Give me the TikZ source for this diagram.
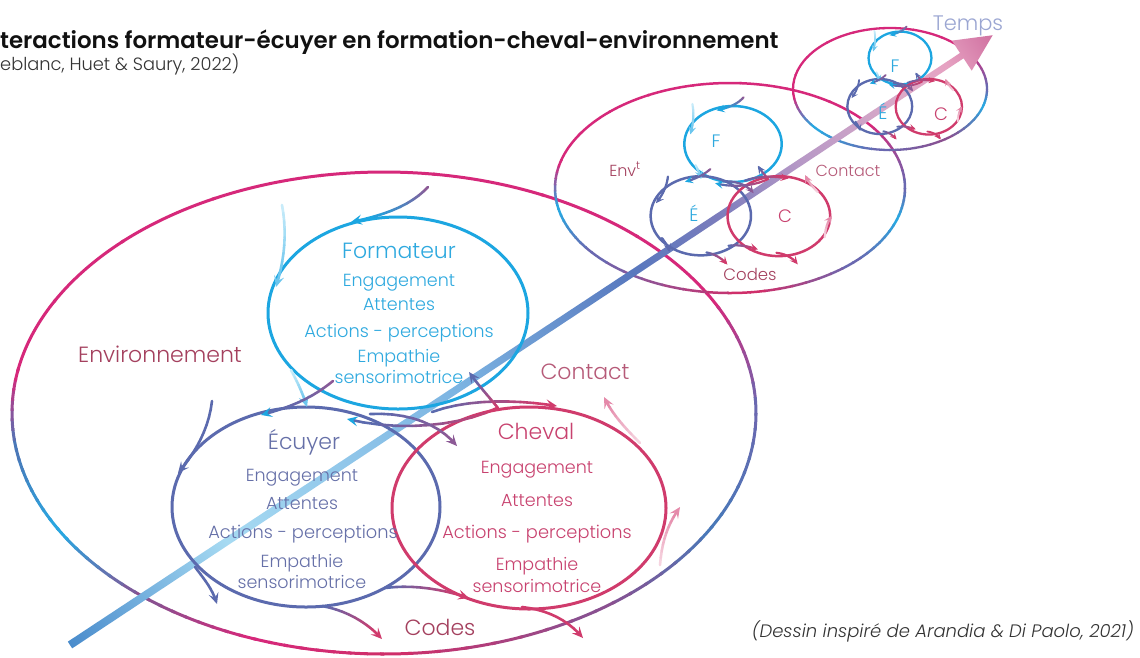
\documentclass[tikz,border=0pt]{standalone}
\usepackage{fontspec}
\setmainfont{Poppins}[UprightFont={* Light},BoldFont={* SemiBold},ItalicFont={* Light Italic},BoldItalicFont={* SemiBold Italic}]
\usetikzlibrary{arrows.meta}
\definecolor{cF}{HTML}{1CA6E1}
\definecolor{cE}{HTML}{5B6AAE}
\definecolor{cC}{HTML}{D03B6C}
\definecolor{cPur}{HTML}{8C5A96}
\definecolor{cLF}{HTML}{6CC6EE}
\definecolor{cLFa}{HTML}{C8ECFA}
\definecolor{cLC}{HTML}{E58AAA}
\definecolor{cLCa}{HTML}{F6D4E0}
\definecolor{eM}{HTML}{D6287A}
\definecolor{eB}{HTML}{4A78B8}
\definecolor{eC}{HTML}{2AA6E0}
\definecolor{eP}{HTML}{CF2F6A}
\definecolor{ePu}{HTML}{8A5090}
\definecolor{eV}{HTML}{6A68B0}
\definecolor{tF}{HTML}{2EA9DF}
\definecolor{tE}{HTML}{6670A8}
\definecolor{tC}{HTML}{C8426F}
\definecolor{tEnv}{HTML}{A4405E}
\definecolor{tCont}{HTML}{B65A78}
\definecolor{tTemps}{HTML}{9BA6D2}
\definecolor{tBlack}{HTML}{111111}
\definecolor{tGray}{HTML}{333333}
\definecolor{t0}{HTML}{4A8CCC}
\definecolor{t1}{HTML}{A6DAF2}
\definecolor{t2}{HTML}{7CB4E2}
\definecolor{t3}{HTML}{5878BE}
\definecolor{t4}{HTML}{7A7CBC}
\definecolor{t5}{HTML}{B698C6}
\definecolor{t6}{HTML}{DCAAC8}
\definecolor{t7}{HTML}{E6A2C2}
\definecolor{t8}{HTML}{D070A0}
\pgfdeclarehorizontalshading{timeshade}{100bp}{color(0bp)=(t0); color(25bp)=(t0); color(33.5bp)=(t1); color(46bp)=(t2); color(55.5bp)=(t3); color(60bp)=(t4); color(64.5bp)=(t5); color(70bp)=(t6); color(72.5bp)=(t7); color(75bp)=(t8); color(100bp)=(t8)}
\newcommand\tipL{11pt}\newcommand\tipW{10pt}\newcommand\tipI{4.5pt}
\newcommand\lwA{2.6pt}\newcommand\lwE{3pt}\newcommand\rf{1}
% gradient curve with arrow tip
\newcommand\gcurve[7]{%
 \path #1 .. controls #2 and #3 .. #4
   coordinate[pos=0] (g0) coordinate[pos=0.1] (g1) coordinate[pos=0.2] (g2)
   coordinate[pos=0.3] (g3) coordinate[pos=0.4] (g4) coordinate[pos=0.5] (g5)
   coordinate[pos=0.6] (g6) coordinate[pos=0.7] (g7) coordinate[pos=0.8] (g8)
   coordinate[pos=0.9] (g9) coordinate[pos=1] (g10);
 \foreach \k [evaluate=\k as \kk using int(\k+1), evaluate=\k as \p using \k*100/8] in {0,...,8}{%
   \draw[line width=\lwA, line cap=round, color=#6!\p!#5] (g\k) -- (g\kk);}
 \draw[line width=\lwA, color=#6, -{Stealth[length=\tipL,width=\tipW,inset=\tipI,color=#7]}] (g9) -- (g10);
}
% gradient ellipse
\newcommand\gradell[6]{%
 \foreach \s/\e/\ca/\cb in {#6}{%
  \foreach \k in {0,...,7}{%
   \pgfmathsetmacro\aa{\s+(\e-\s)*\k/8}%
   \pgfmathsetmacro\bb{\s+(\e-\s)*(\k+1)/8+0.6}%
   \pgfmathsetmacro\p{\k*100/7}%
   \draw[line width=#5, color=\cb!\p!\ca] (#1,#2) ++(\aa:#3 and #4) arc[start angle=\aa, end angle=\bb, x radius=#3, y radius=#4];
 }}}
\newcommand\trio{%
 \draw[cF, line width=\lwE] (398,313) ellipse [x radius=130*\rf, y radius=96*\rf];
 \draw[cE, line width=\lwE] (306,507) ellipse [x radius=134*\rf, y radius=100*\rf];
 \draw[cC, line width=\lwE] (529,508) ellipse [x radius=137*\rf, y radius=101*\rf];
 \gcurve{(428,187)}{(414,202)}{(392,214)}{(351,222)}{cPur}{cF}{cF}
 \gcurve{(282,205)}{(287,232)}{(285,258)}{(276,287)}{cLFa}{cLF}{cLF}
 \gcurve{(291,370)}{(298,383)}{(303,394)}{(307,407)}{cLFa}{cLF}{cLF}
 \gcurve{(333,381)}{(318,393)}{(300,405)}{(261,415)}{cPur}{cE}{cF}
 \gcurve{(497,408)}{(460,426)}{(400,432)}{(347,419)}{cC}{cE}{cF}
 \gcurve{(432,412)}{(470,398)}{(520,400)}{(557,406)}{cE}{cC}{cC}
 \gcurve{(498,408)}{(490,398)}{(478,385)}{(469,372)}{cC}{cE}{cE}
 \gcurve{(370,414)}{(410,412)}{(440,425)}{(457,446)}{cE}{cPur}{cPur}
 \gcurve{(212,401)}{(209,428)}{(196,452)}{(178,473)}{cE}{cE}{cE}
 \gcurve{(195,567)}{(205,580)}{(213,590)}{(217,604)}{cE}{cE}{cE}
 \gcurve{(322,606)}{(345,610)}{(367,622)}{(382,639)}{cE}{cC}{cC}
 \gcurve{(385,588)}{(415,584)}{(445,590)}{(469,598)}{cE}{cC}{cC}
 \gcurve{(522,607)}{(548,610)}{(568,620)}{(583,638)}{cC}{cC}{cC}
 \gcurve{(660,565)}{(662,540)}{(668,524)}{(680,507)}{cLCa}{cLC}{cLC}
 \gcurve{(640,443)}{(625,428)}{(612,414)}{(604,397)}{cLCa}{cLC}{cLC}
}
\begin{document}
\begin{tikzpicture}[x=1pt,y=-1pt, lab/.style={anchor=base, inner sep=0pt}]
\useasboundingbox (0,0) rectangle (1140,657);
\fill[white] (0,0) rectangle (1140,657);
% environment ellipses
\gradell{384}{413}{372}{241}{3pt}{0/28/eV/eB, 28/55/eB/ePu, 55/90/ePu/eP, 90/110/eP/eM, 110/129/eM/ePu, 129/151/ePu/eC, 151/171/eC/eB, 171/190/eB/eM, 190/330/eM/eM, 330/360/eM/eV}
\gradell{730}{188}{175}{105}{2.5pt}{0/17/eV/eC, 17/45/eC/eV, 45/83/eV/eP, 83/142/eP/eV, 142/168/eV/eC, 168/195/eC/eM, 195/320/eM/eM, 320/360/eM/eV}
\gradell{890}{89}{97}{61}{2.3pt}{0/15/eV/eC, 15/55/eC/ePu, 55/95/ePu/eV, 95/140/eV/eC, 140/175/eC/eM, 175/320/eM/eM, 320/360/eM/eV}
% time arrow
\begin{scope}[transform canvas={shift={(70,645)}, rotate=33.46}]
\shade[shading=timeshade] (0,-4) -- (1069,-3.2) -- (1069,-18) -- (1106,0) -- (1069,18) -- (1069,3.2) -- (0,4) -- cycle;
\end{scope}
% trios
\trio
\begin{scope}[shift={(733,144)}, xscale=0.35, yscale=0.37, shift={(-398,-313)}]
\def\rf{1.07}\def\lwA{2.2pt}\def\lwE{2.5pt}\def\tipL{8pt}\def\tipW{7.5pt}\def\tipI{3.2pt}
\trio
\end{scope}
\begin{scope}[shift={(900,58)}, xscale=0.22, yscale=0.25, shift={(-398,-313)}]
\def\rf{1.1}\def\lwA{1.8pt}\def\lwE{2.3pt}\def\tipL{6.5pt}\def\tipW{6pt}\def\tipI{2.7pt}
\trio
\end{scope}
% main texts
\begin{scope}[tF]
\node[lab, font=\fontsize{22}{22}\selectfont] (fT) at (399,258) {Formateur};
\node[lab, font=\fontsize{17.5}{17}\selectfont] (f1) at (399,286) {Engagement};
\node[lab, font=\fontsize{17.5}{17}\selectfont] (f2) at (399,310) {Attentes};
\node[lab, font=\fontsize{17.8}{17}\selectfont] (f3) at (399,337) {Actions - perceptions};
\node[lab, font=\fontsize{17.5}{17}\selectfont] (f4) at (399,362) {Empathie};
\node[lab, font=\fontsize{17.5}{17}\selectfont] (f5) at (399,383) {sensorimotrice};
\end{scope}
\begin{scope}[tE]
\node[lab, font=\fontsize{22}{22}\selectfont] (eT) at (304,449) {Écuyer};
\node[lab, font=\fontsize{17.5}{17}\selectfont] (e1) at (302,481) {Engagement};
\node[lab, font=\fontsize{17.5}{17}\selectfont] (e2) at (302,509) {Attentes};
\node[lab, font=\fontsize{17.8}{17}\selectfont] (e3) at (303,538) {Actions - perceptions};
\node[lab, font=\fontsize{17.5}{17}\selectfont] (e4) at (302,567) {Empathie};
\node[lab, font=\fontsize{17.5}{17}\selectfont] (e5) at (302,588) {sensorimotrice};
\end{scope}
\begin{scope}[tC]
\node[lab, font=\fontsize{22}{22}\selectfont] (cT) at (536,439) {Cheval};
\node[lab, font=\fontsize{17.5}{17}\selectfont] (c1) at (537,473) {Engagement};
\node[lab, font=\fontsize{17.5}{17}\selectfont] (c2) at (537,506) {Attentes};
\node[lab, font=\fontsize{17.8}{17}\selectfont] (c3) at (537,538) {Actions - perceptions};
\node[lab, font=\fontsize{17.5}{17}\selectfont] (c4) at (537,570) {Empathie};
\node[lab, font=\fontsize{17.5}{17}\selectfont] (c5) at (537,592) {sensorimotrice};
\end{scope}
\node[lab, tEnv, font=\fontsize{22}{22}\selectfont] (env) at (160,362) {Environnement};
\node[lab, tCont, font=\fontsize{22}{22}\selectfont] (cont) at (585,379) {Contact};
\node[lab, tEnv, font=\fontsize{22}{22}\selectfont] (codes) at (440,635) {Codes};
% mid texts
\node[lab, tF, font=\fontsize{18}{18}\selectfont] (mF) at (716,147) {F};
\node[lab, tF, font=\fontsize{18}{18}\selectfont] (mE) at (694,221) {É};
\node[lab, tC, font=\fontsize{18}{18}\selectfont] (mC) at (785,222) {C};
\node[lab, tEnv, font=\fontsize{16}{16}\selectfont] (mEnv) at (625,176) {Env\textsuperscript{t}};
\node[lab, tCont, font=\fontsize{16}{16}\selectfont] (mCont) at (848,176) {Contact};
\node[lab, tEnv, font=\fontsize{16.5}{16}\selectfont] (mCodes) at (750,280) {Codes};
% small texts
\node[lab, tF, font=\fontsize{18}{18}\selectfont] (sF) at (895,72) {F};
\node[lab, tF, font=\fontsize{18}{18}\selectfont] (sE) at (883,119) {É};
\node[lab, tC, font=\fontsize{18}{18}\selectfont] (sC) at (941,120) {C};
\node[lab, tTemps, font=\fontsize{21}{21}\selectfont] (temps) at (968,30) {Temps};
% titles
\node[anchor=base west, inner sep=0pt, tBlack, font=\fontsize{22.9}{22}\selectfont\bfseries] (title) at (0,48) {\llap{In}teractions formateur-écuyer en formation-cheval-environnement};
\node[anchor=base west, inner sep=0pt, tGray, font=\fontsize{17.8}{17}\selectfont] (sub) at (0,70) {\llap{(L}eblanc, Huet \& Saury, 2022)};
\node[anchor=base east, inner sep=0pt, tGray, font=\fontsize{18}{18}\selectfont\itshape] (credit) at (1134,637) {(Dessin inspiré de Arandia \& Di Paolo, 2021)};
\end{tikzpicture}
\end{document}
